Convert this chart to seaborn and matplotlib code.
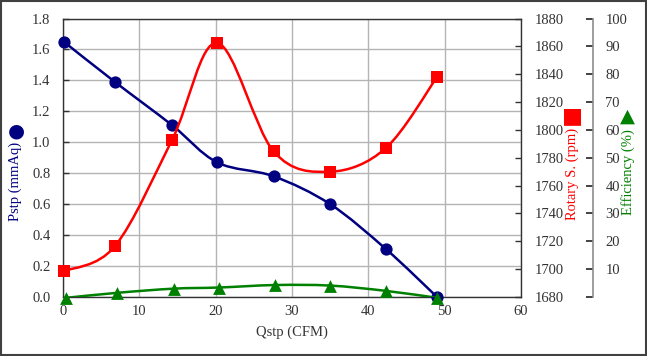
import numpy as np
import pandas as pd
import seaborn as sns
import matplotlib
matplotlib.use("Agg")
import matplotlib.pyplot as plt
from matplotlib.path import Path
from matplotlib.patches import PathPatch, Rectangle

# ---- data ----
qstp_p = [0.1, 6.8, 14.3, 20.2, 27.6, 35.0, 42.3, 49.0]
pstp = [1.65, 1.39, 1.11, 0.87, 0.78, 0.60, 0.31, 0.00]
qstp_r = [0.1, 6.8, 14.3, 20.2, 27.6, 35.0, 42.3, 49.0]
rpm = [1698.5, 1716.5, 1793, 1862.5, 1784.5, 1770, 1787, 1838]
qstp_e = [0.4, 7.1, 14.5, 20.4, 27.8, 35.0, 42.3, 49.0]
eff = [-0.3, 1.5, 3.0, 3.4, 4.3, 4.1, 2.2, -0.3]

xticks = [0, 10, 20, 30, 40, 50, 60]
yticks_l = [0.0, 0.2, 0.4, 0.6, 0.8, 1.0, 1.2, 1.4, 1.6, 1.8]
yticks_r = [1680, 1700, 1720, 1740, 1760, 1780, 1800, 1820, 1840, 1860, 1880]
yticks_e = [0, 10, 20, 30, 40, 50, 60, 70, 80, 90, 100]

NAVY = "#000080"
RED = "#FF0000"
GREEN = "#008000"

sns.set_theme(style="white")
plt.rcParams["font.family"] = ["Liberation Serif", "DejaVu Sans"]
plt.rcParams["font.size"] = 10.5

fig = plt.figure(figsize=(6.47, 3.56), dpi=100)
ax = fig.add_axes([63/647, 1-297/356, (521-63)/647, (297-18.5)/356])
ax2 = ax.twinx()
ax3 = ax.twinx()


def smooth(ax_, xs, ys, color, lw=1.8):
    P = np.column_stack([xs, ys]).astype(float)
    n = len(P)
    verts = [tuple(P[0])]
    codes = [Path.MOVETO]
    for i in range(n - 1):
        p0 = P[i - 1] if i > 0 else P[i]
        p3 = P[i + 2] if i + 2 < n else P[i + 1]
        c1 = P[i] + (P[i + 1] - p0) / 6.0
        c2 = P[i + 1] - (p3 - P[i]) / 6.0
        verts += [tuple(c1), tuple(c2), tuple(P[i + 1])]
        codes += [Path.CURVE4] * 3
    patch = PathPatch(Path(verts, codes), fill=False, edgecolor=color, lw=lw,
                      capstyle="round", joinstyle="round", zorder=3)
    ax_.add_patch(patch)


# Pstp
smooth(ax, qstp_p, pstp, NAVY)
sns.scatterplot(x=qstp_p, y=pstp, ax=ax, marker="o", s=78, color=NAVY,
                edgecolor=NAVY, linewidth=0, zorder=4, clip_on=False)
# rpm
smooth(ax2, qstp_r, rpm, RED)
sns.scatterplot(x=qstp_r, y=rpm, ax=ax2, marker="s", s=85, color=RED,
                edgecolor=RED, linewidth=0, zorder=4, clip_on=False)
# efficiency
smooth(ax3, qstp_e, eff, GREEN)
sns.scatterplot(x=qstp_e, y=eff, ax=ax3, marker="^", s=85, color=GREEN,
                edgecolor=GREEN, linewidth=0, zorder=4, clip_on=False)

# main axes
ax.set_xlim(0, 60)
ax.set_ylim(0, 1.8)
ax.set_xticks(xticks)
ax.set_yticks(yticks_l)
ax.set_yticklabels([f"{v:.1f}" for v in yticks_l])
ax.grid(True, color="#b4b4b4", lw=1.0)
ax.set_axisbelow(True)
ax.tick_params(axis="both", direction="in", length=4, width=1, color="#333333",
               labelcolor="#333333", labelsize=10.5)
ax.tick_params(axis="y", pad=9, left=True)
ax.tick_params(axis="x", pad=6, bottom=False)
for s in ax.spines.values():
    s.set_color("#333333")
    s.set_linewidth(1.0)
ax.set_xlabel("Qstp (CFM)", fontsize=10.5, color="#333333", labelpad=5)
ax.set_ylabel("")

# rpm axis
ax2.set_ylim(1680, 1880)
ax2.set_yticks(yticks_r)
ax2.tick_params(axis="y", direction="in", length=4, width=1, color="#333333",
                labelcolor="#333333", labelsize=10.5, pad=10, right=True)
for s in ax2.spines.values():
    s.set_visible(False)
ax2.grid(False)

# efficiency axis
ax3.set_ylim(0, 100)
ax3.set_yticks(yticks_e)
ax3.set_yticklabels([""] + [str(v) for v in yticks_e[1:]])
ax3.spines["right"].set_position(("axes", (593-63)/458))
for k, s in ax3.spines.items():
    s.set_visible(k == "right")
ax3.spines["right"].set_color("#8c8c8c")
ax3.spines["right"].set_linewidth(1.2)
ax3.tick_params(axis="y", direction="in", length=5, width=1.2, color="#222222",
                labelcolor="#333333", labelsize=10.5, pad=9, right=True)
ax3.grid(False)

# axis titles with symbols
fig.text(15/647, 1-181/356, "Pstp (mmAq)", rotation=90, color=NAVY,
         ha="center", va="center", fontsize=10.5)
fig.text(16/647, 1-131/356, "●", color=NAVY, ha="center", va="center",
         fontsize=14, family="DejaVu Sans")
fig.text(572/647, 1-174/356, "Rotary S. (rpm)", rotation=90, color=RED,
         ha="center", va="center", fontsize=10.5)
fig.text(572/647, 1-116/356, "■", color=RED, ha="center", va="center",
         fontsize=16, family="DejaVu Sans")
fig.text(628/647, 1-172/356, "Efficiency (%)", rotation=90, color=GREEN,
         ha="center", va="center", fontsize=10.5)
fig.text(627/647, 1-116/356, "▲", color=GREEN, ha="center", va="center",
         fontsize=14, family="DejaVu Sans")

# outer border
fig.patches.append(Rectangle((0.001, 0.002), 0.997, 0.995, transform=fig.transFigure,
                             fill=False, edgecolor="#404040", lw=1.5))

fig.savefig("out.png", dpi=100)
